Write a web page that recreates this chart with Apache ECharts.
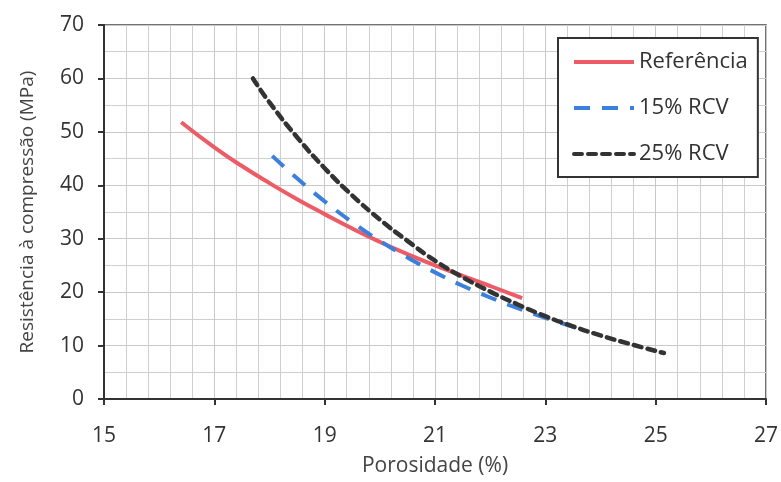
<!DOCTYPE html>
<html>
<head>
<meta charset="utf-8">
<script src="https://cdn.jsdelivr.net/npm/echarts@6/dist/echarts.min.js"></script>
<style>html,body{margin:0;padding:0;background:#fff}#c{width:781px;height:482px}</style>
</head>
<body>
<div id="c"></div>
<script>
var seriesNames = ['Referência', '15% RCV', '25% RCV'];
var referencia = [[16.4,51.8],[17,47.1],[17.5,43.6],[18,40.4],[18.5,37.4],[19,34.6],[19.5,31.9],[20,29.4],[20.5,27.1],[21,25.0],[21.5,23.05],[22,21.15],[22.58,18.9]];
var rcv15 = [[18.05,45.5],[18.5,41.3],[19,37],[19.5,33.1],[20,29.6],[20.5,26.5],[21,23.7],[21.5,21.2],[22,19.0],[22.5,17.0],[23,15.2],[23.6,13.2]];
var rcv25 = [[17.7,60],[18,55.5],[18.5,49],[19,43.2],[19.5,38.1],[20,33.6],[20.5,29.6],[21,25.9],[21.5,22.8],[22,20.1],[22.5,17.7],[23,15.5],[23.5,13.6],[24,11.9],[24.5,10.4],[25.15,8.6]];
var xTitle = 'Porosidade (%)';
var yTitle = 'Resistência à compressão (MPa)';

var font = '"Open Sans", sans-serif';
var chart = echarts.init(document.getElementById('c'));
chart.setOption({
  animation: false,
  backgroundColor: '#fff',
  grid: {left: 104, right: 14, top: 25, bottom: 82, show: true, borderColor: '#444', borderWidth: 1.5},
  legend: {
    orient: 'vertical', left: 558, top: 38,
    padding: [13, 10, 12, 14],
    borderColor: '#333', borderWidth: 2, backgroundColor: '#fff',
    itemWidth: 60, itemHeight: 14, itemGap: 24,
    itemStyle: {opacity: 0},
    lineStyle: {width: 4},
    textStyle: {fontFamily: font, fontSize: 22, color: '#333'},
    data: seriesNames
  },
  xAxis: {
    type: 'value', min: 15, max: 27, interval: 2,
    name: xTitle, nameLocation: 'middle', nameGap: 57,
    nameTextStyle: {fontFamily: font, fontSize: 21, color: '#444'},
    axisLine: {lineStyle: {color: '#333', width: 2}},
    axisTick: {show: true, length: 6, lineStyle: {color: '#333', width: 2}},
    axisLabel: {fontFamily: font, fontSize: 21, color: '#333', margin: 27},
    splitLine: {lineStyle: {color: '#c8c8c8', width: 1}},
    minorTick: {show: false, splitNumber: 5},
    minorSplitLine: {show: true, lineStyle: {color: '#cfcfcf', width: 1}}
  },
  yAxis: {
    type: 'value', min: 0, max: 70, interval: 10,
    name: yTitle, nameLocation: 'middle', nameGap: 67, nameRotate: 90,
    nameTextStyle: {fontFamily: font, fontSize: 19, color: '#444'},
    axisLine: {show: true, lineStyle: {color: '#333', width: 2}},
    axisTick: {show: true, length: 6, lineStyle: {color: '#333', width: 2}},
    axisLabel: {fontFamily: font, fontSize: 21, color: '#333', margin: 20},
    splitLine: {lineStyle: {color: '#c8c8c8', width: 1}},
    minorTick: {show: false, splitNumber: 2},
    minorSplitLine: {show: true, lineStyle: {color: '#cfcfcf', width: 1}}
  },
  series: [
    {name: seriesNames[0], type: 'line', data: referencia, smooth: true, showSymbol: false, symbol: 'none',
     lineStyle: {color: '#ec5b66', width: 4}, itemStyle: {color: '#ec5b66'}},
    {name: seriesNames[1], type: 'line', data: rcv15, smooth: true, showSymbol: false, symbol: 'none',
     lineStyle: {color: '#3b80dc', width: 4, type: [16, 12]}, itemStyle: {color: '#3b80dc'}},
    {name: seriesNames[2], type: 'line', data: rcv25, smooth: true, showSymbol: false, symbol: 'none',
     lineStyle: {color: '#333', width: 4.5, type: [8, 6], cap: 'round'}, itemStyle: {color: '#333'}}
  ]
});
</script>
</body>
</html>
